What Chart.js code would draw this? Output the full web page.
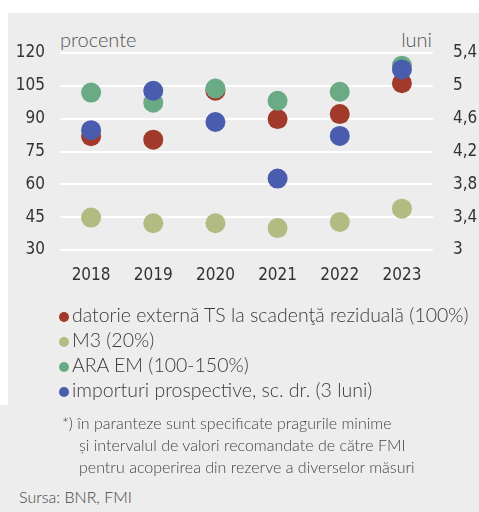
<!DOCTYPE html>
<html lang="ro">
<head>
  <meta charset="UTF-8">
  <title>Acoperirea prin rezerve</title>
  <script src="https://cdn.jsdelivr.net/npm/chart.js"></script>
  <style>
    body { margin: 0; width: 479px; height: 512px; background: #fff; position: relative; overflow: hidden;
           font-family: Lato, "Noto Sans", sans-serif; color: #3a3a3a; }
    .panel { position: absolute; background: #ededed; }
    #top { left: 8px; top: 13px; width: 471px; height: 392px; }
    #bottom { left: 0; top: 405px; width: 479px; height: 107px; }
    #wrap { position: absolute; left: 8px; top: 13px; width: 471px; height: 290px; }
    .unit { position: absolute; top: 27px; font-size: 20px; color: #555; font-weight: 300; }
    #legend { position: absolute; left: 58px; top: 302px; font-size: 19.5px; font-weight: 300; }
    #legend div { height: 25px; line-height: 25px; white-space: nowrap; }
    #legend span { display: inline-block; width: 10px; height: 10px; border-radius: 50%; margin: 0 3px 0 1px; vertical-align: 0; }
    #note { position: absolute; left: 62px; top: 412px; font-size: 16px; line-height: 22px; font-weight: 300; color: #444; }
    #note .ind { padding-left: 17px; }
    #src { position: absolute; left: 19px; top: 487px; font-size: 16px; font-weight: 300; color: #444; }
  </style>
</head>
<body>
  <div class="panel" id="top"></div>
  <div class="panel" id="bottom"></div>
  <div class="unit" style="left:60px">procente</div>
  <div class="unit" style="right:47px">luni</div>
  <div id="wrap"><canvas id="chart"></canvas></div>
  <div id="legend"></div>
  <div id="note">
    <div>*) în paranteze sunt specificate pragurile minime</div>
    <div class="ind">și intervalul de valori recomandate de către FMI</div>
    <div class="ind">pentru acoperirea din rezerve a diverselor măsuri</div>
  </div>
  <div id="src">Sursa: BNR, FMI</div>

  <script>
    const years = ['2018', '2019', '2020', '2021', '2022', '2023'];
    const datorie = [82, 80.4, 102.8, 89.8, 92.1, 106.2];
    const m3 = [44.8, 42.2, 42.2, 40, 42.8, 48.9];
    const araEm = [101.9, 97.3, 103.8, 98.2, 102.3, 114.2];
    const importuri = [4.46, 4.94, 4.56, 3.87, 4.39, 5.2];

    const names = [
      'datorie externă TS la scadenţă reziduală (100%)',
      'M3 (20%)',
      'ARA EM (100-150%)',
      'importuri prospective, sc. dr. (3 luni)'
    ];
    const colors = ['#a13a2b', '#b2bb82', '#6aab86', '#4a5cae'];

    const tickFont = { family: '"Liberation Sans Narrow", "DejaVu Sans Condensed", sans-serif', size: 17 };

    function ds(i, data, axis, order) {
      return {
        label: names[i], data, yAxisID: axis, order,
        showLine: false,
        pointRadius: 10, pointHoverRadius: 10,
        pointBackgroundColor: colors[i], pointBorderWidth: 0,
        borderColor: colors[i], backgroundColor: colors[i]
      };
    }

    new Chart(document.getElementById('chart'), {
      type: 'line',
      data: {
        labels: years,
        datasets: [
          ds(0, datorie, 'y', 4),
          ds(1, m3, 'y', 3),
          ds(2, araEm, 'y', 2),
          ds(3, importuri, 'y1', 1)
        ]
      },
      options: {
        responsive: true,
        maintainAspectRatio: false,
        animation: false,
        layout: { padding: { top: 40, right: 0, left: 0, bottom: 0 } },
        plugins: { legend: { display: false }, tooltip: { enabled: false } },
        scales: {
          x: {
            offset: true,
            grid: { display: false },
            border: { display: false },
            ticks: { color: '#333', font: tickFont, padding: 7 },
            afterFit: s => { s.height = 53; }
          },
          y: {
            position: 'left',
            min: 30, max: 120,
            ticks: { stepSize: 15, color: '#333', font: tickFont, padding: 15 },
            grid: { color: '#ffffff', lineWidth: 2, drawTicks: false },
            border: { display: false },
            afterFit: s => { s.width = 52; }
          },
          y1: {
            position: 'right',
            min: 3, max: 5.4,
            ticks: {
              stepSize: 0.4, color: '#333', font: tickFont, padding: 20,
              callback: v => String(Math.round(v * 10) / 10).replace('.', ',')
            },
            grid: { display: false, drawTicks: false },
            border: { display: false },
            afterFit: s => { s.width = 46; }
          }
        }
      }
    });

    const legend = document.getElementById('legend');
    names.forEach((n, i) => {
      const row = document.createElement('div');
      row.innerHTML = '<span style="background:' + colors[i] + '"></span>' + n;
      legend.appendChild(row);
    });
  </script>
</body>
</html>
